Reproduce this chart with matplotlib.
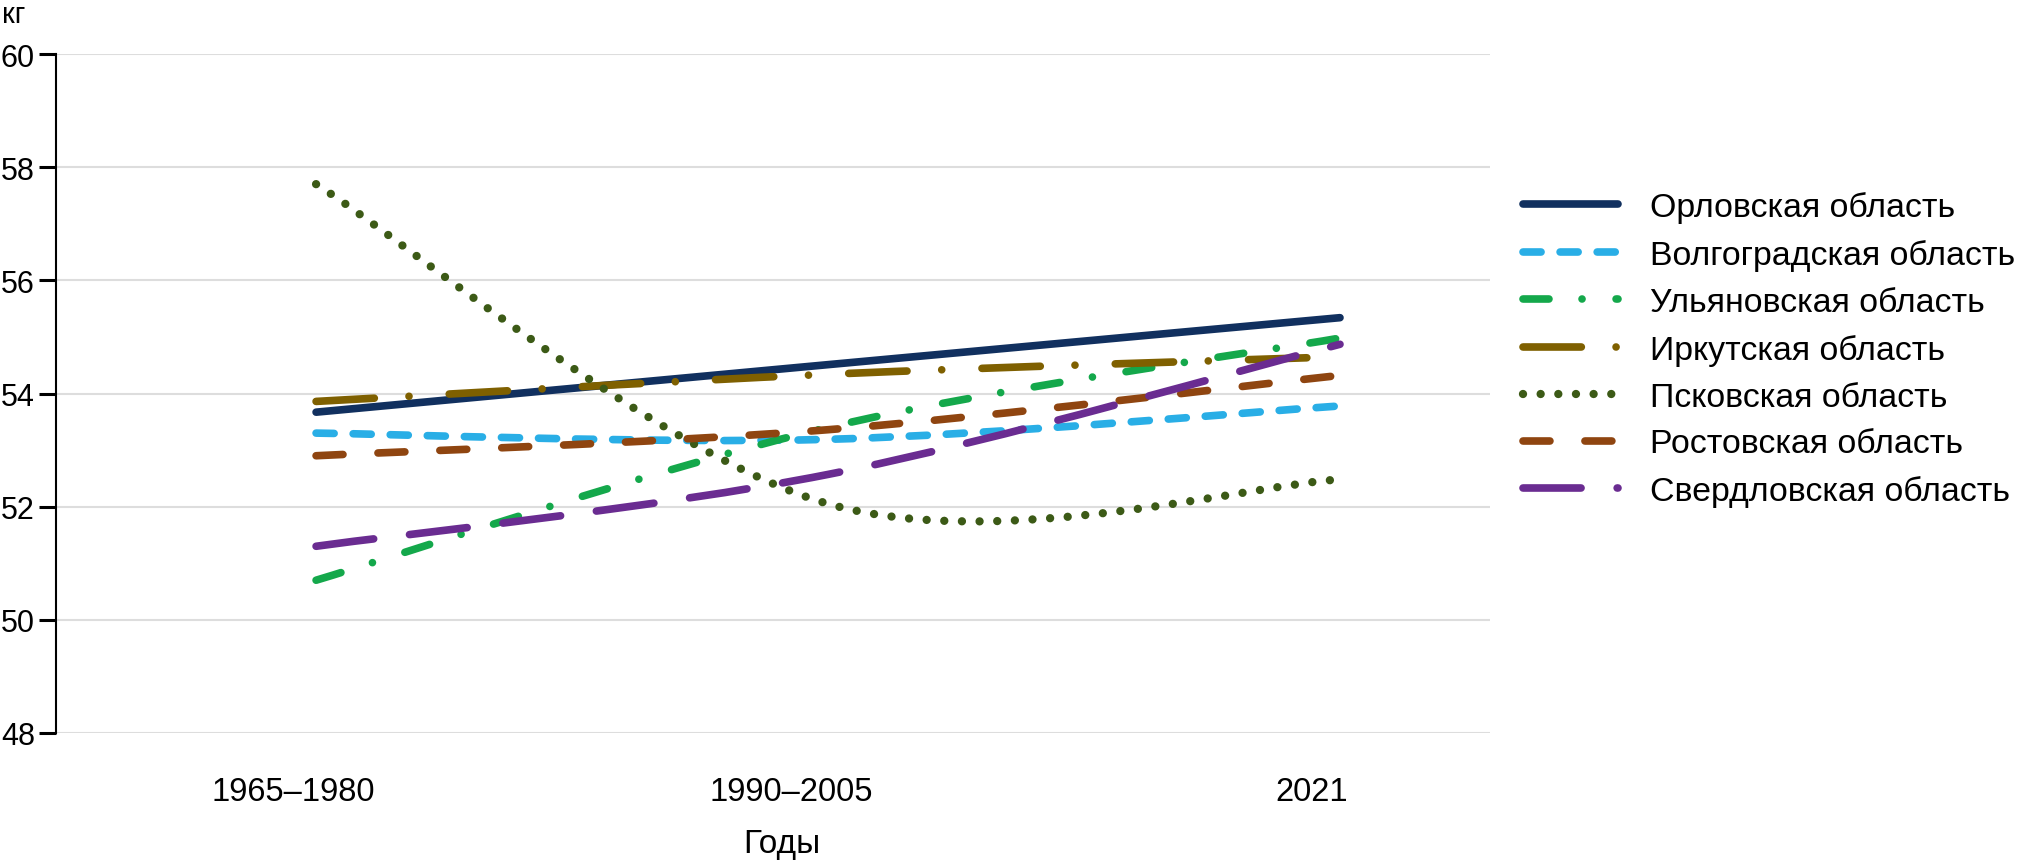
"""Среднедушевое потребление (кг) по регионам: три периода, сглаженные линии."""
import matplotlib
matplotlib.use("Agg")
import matplotlib.pyplot as plt
import numpy as np
from matplotlib.lines import Line2D
from matplotlib.patches import PathPatch
from matplotlib.path import Path
from matplotlib.transforms import ScaledTranslation

plt.rcParams["font.family"] = ["Liberation Sans", "DejaVu Sans"]
plt.rcParams["lines.scale_dashes"] = False

PERIODS = ["1965–1980", "1990–2005", "2021"]
REGIONS = [
    "Орловская область", "Волгоградская область", "Ульяновская область",
    "Иркутская область", "Псковская область", "Ростовская область",
    "Свердловская область",
]
ORLOV = [53.67, 54.51, 55.34]
VOLGOGRAD = [53.30, 53.19, 53.78]
ULYANOVSK = [50.70, 53.40, 54.98]
IRKUTSK = [53.86, 54.34, 54.65]
PSKOV = [57.70, 52.05, 52.48]
ROSTOV = [52.90, 53.36, 54.32]
SVERDLOVSK = [51.30, 52.57, 54.87]
SERIES = [ORLOV, VOLGOGRAD, ULYANOVSK, IRKUTSK, PSKOV, ROSTOV, SVERDLOVSK]

COLORS = ["#11305f", "#29aee6", "#14a84b", "#7f6000", "#3c5a16", "#8f4510", "#6a2c91"]
DOT = 0.01
# dash patterns in points (not scaled by line width)
DASHES = [
    None,
    (13, 13.7),
    (18.7, 23.8, DOT, 24.5),
    (42, 25, DOT, 29),
    (DOT, 12.7),
    (19.4, 25.2),
    (41.8, 26),
]
WIDTHS = [5.5, 5.5, 5.5, 5.5, 6, 5.5, 5.5]

W, H = 2020, 862


def smooth_path(xs, ys):
    """Cubic Bezier through the points (Excel-style smoothed line)."""
    pts = np.column_stack([xs, ys]).astype(float)
    n = len(pts)
    verts, codes = [pts[0]], [Path.MOVETO]
    for i in range(n - 1):
        prev_p = pts[max(i - 1, 0)]
        next_p = pts[min(i + 2, n - 1)]
        c1 = pts[i] + (pts[i + 1] - prev_p) / 6
        c2 = pts[i + 1] - (next_p - pts[i]) / 6
        verts += [c1, c2, pts[i + 1]]
        codes += [Path.CURVE4] * 3
    return Path(verts, codes)


def style(dashes):
    return "solid" if dashes is None else (0, dashes)


fig = plt.figure(figsize=(W / 100, H / 100), dpi=100)
ax = fig.add_axes([56 / W, 1 - 734 / H, (1490 - 56) / W, (734 - 55) / H])
ax.set_xlim(-0.508, 2.293)
ax.set_ylim(48, 60)

x = np.arange(len(PERIODS))
handles = []
for k, (vals, color, dashes, lw) in enumerate(zip(SERIES, COLORS, DASHES, WIDTHS)):
    patch = PathPatch(smooth_path(x, vals), fill=False, edgecolor=color, lw=lw,
                      linestyle=style(dashes), capstyle="round", joinstyle="round",
                      zorder=3 + k)
    ax.add_patch(patch)
    handles.append(Line2D([], [], color=color, lw=lw, linestyle=style(dashes),
                          dash_capstyle="round", solid_capstyle="round"))

for side in ("top", "right", "bottom"):
    ax.spines[side].set_visible(False)
ax.spines["left"].set_linewidth(1.5)
ax.spines["left"].set_color("black")

ax.set_yticks(np.arange(48, 61, 2))
ax.tick_params(axis="y", length=12.2, width=2.2, direction="out", pad=2.9,
               labelsize=22, colors="black")
ax.grid(axis="y", color="#dddddd", lw=1.5)
ax.set_axisbelow(True)

ax.set_xticks(x)
ax.set_xticklabels(PERIODS)
ax.tick_params(axis="x", length=0, pad=31, labelsize=23.5)
for lbl, dx in zip(ax.get_xticklabels(), [-23, -37, -28]):
    lbl.set_transform(lbl.get_transform() + ScaledTranslation(dx / 100, 0, fig.dpi_scale_trans))

fig.text(782 / W, 1 - 853 / H, "Годы", ha="center", va="baseline", fontsize=24)
fig.text(2 / W, 1 - 23 / H, "кг", ha="left", va="baseline", fontsize=21)

fig.legend(handles, REGIONS, loc="upper left", bbox_to_anchor=(1523 / W, 1 - 192 / H),
           frameon=False, fontsize=24.4, handlelength=2.8, handletextpad=0.95,
           labelspacing=0.47, borderpad=0, borderaxespad=0)

fig.savefig("out.png", dpi=100)
